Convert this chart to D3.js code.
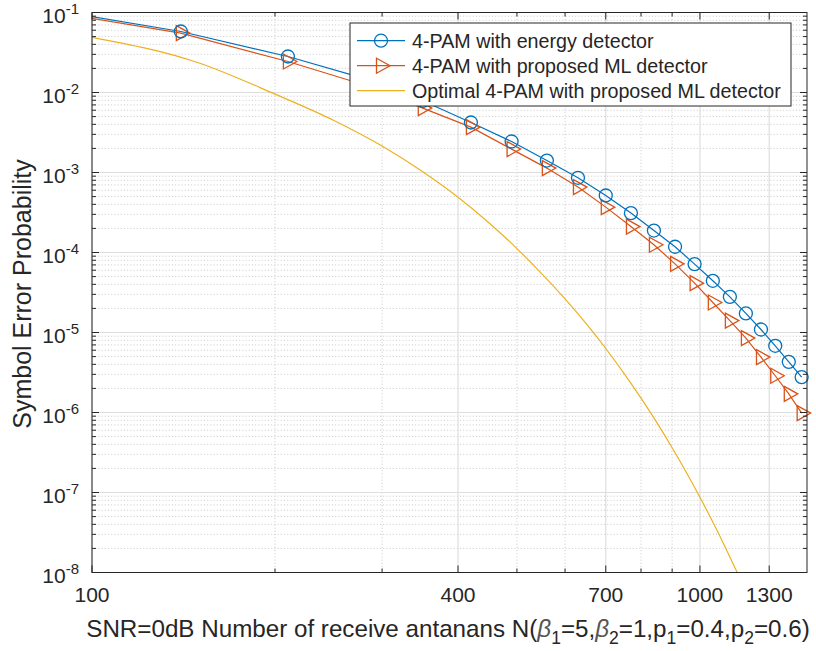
<!DOCTYPE html>
<html><head><meta charset="utf-8">
<script src="https://cdn.jsdelivr.net/npm/d3@7"></script>
<style>
html,body{margin:0;padding:0;background:#fff;}
text{font-family:"Liberation Sans",Arial,Helvetica,sans-serif;fill:#262626;}
</style></head>
<body><svg id="c" width="816" height="651"></svg>
<script>
// ---- data ----
const antennas = [70,140,210,280,350,420,490,560,630,700,770,840,910,980,1050,1120,1190,1260,1330,1400,1470];
const energySEP = [0.139,5.79e-2,2.82e-2,1.50e-2,7.87e-3,4.22e-3,2.44e-3,1.41e-3,8.59e-4,5.16e-4,3.11e-4,1.88e-4,1.18e-4,7.16e-5,4.43e-5,2.79e-5,1.73e-5,1.09e-5,6.82e-6,4.30e-6,2.77e-6];
const mlSEP = [0.1326,5.53e-2,2.44e-2,1.25e-2,6.38e-3,3.69e-3,1.96e-3,1.135e-3,6.57e-4,3.69e-4,2.11e-4,1.25e-4,7.22e-5,4.14e-5,2.37e-5,1.41e-5,8.51e-6,4.93e-6,2.88e-6,1.71e-6,9.83e-7];
const optAntennas = [100,150,200,250,300,350,400,450,500,550,600,650,700,750,800,850,900,950,1000,1050,1100,1150,1200];
const optSEP = [4.90e-2,2.34e-2,9.55e-3,4.47e-3,2.14e-3,1.02e-3,4.90e-4,2.34e-4,1.12e-4,5.37e-5,2.63e-5,1.29e-5,6.31e-6,3.09e-6,1.51e-6,7.41e-7,3.63e-7,1.78e-7,8.71e-8,4.27e-8,2.09e-8,1.02e-8,5.01e-9];
const xTicks = [100,400,700,1000,1300];
const xMinor = [200,300,500,600,800,900];
const yExponents = [-1,-2,-3,-4,-5,-6,-7,-8];
const seriesNames = ["4-PAM with energy detector","4-PAM with proposed ML detector","Optimal 4-PAM with proposed ML detector"];
const seriesColors = ["#0072BD","#D95319","#EDB120"];
const xLabelParts = [
  {t:"SNR=0dB Number of receive antanans N("},
  {t:"\u03B2", g:1},{t:"1", s:1},{t:"=5,"},
  {t:"\u03B2", g:1},{t:"2", s:1},{t:"=1,p"},
  {t:"1", s:1},{t:"=0.4,p"},{t:"2", s:1},{t:"=0.6)"}
];
const yLabel = "Symbol Error Probability";

// ---- layout ----
const L=92, R=807, T=12.5, B=572.5;
const svg = d3.select("#c");
const x = d3.scaleLog().domain([100,1500]).range([L,R]);
const y = d3.scaleLog().domain([1e-8,1e-1]).range([B,T]);

// grid
const yMinor = [];
yExponents.forEach(e=>{ if(e>-8) for(let k=2;k<=9;k++) yMinor.push(k*Math.pow(10,e-1)); });
const g = svg.append("g");
g.selectAll(".xmg").data(xMinor).join("line")
  .attr("x1",d=>x(d)).attr("x2",d=>x(d)).attr("y1",T).attr("y2",B)
  .attr("stroke","#c8c8c8").attr("stroke-width",1).attr("stroke-dasharray","1,2.2");
g.selectAll(".ymg").data(yMinor).join("line")
  .attr("y1",d=>y(d)).attr("y2",d=>y(d)).attr("x1",L).attr("x2",R)
  .attr("stroke","#c8c8c8").attr("stroke-width",1).attr("stroke-dasharray","1,2.2");
g.selectAll(".xg").data(xTicks).join("line")
  .attr("x1",d=>x(d)).attr("x2",d=>x(d)).attr("y1",T).attr("y2",B)
  .attr("stroke","#dedede").attr("stroke-width",1.2);
g.selectAll(".yg").data(yExponents.map(e=>Math.pow(10,e))).join("line")
  .attr("y1",d=>y(d)).attr("y2",d=>y(d)).attr("x1",L).attr("x2",R)
  .attr("stroke","#dedede").attr("stroke-width",1.2);

// clip
svg.append("clipPath").attr("id","clip").append("rect")
  .attr("x",L).attr("y",T).attr("width",R-L).attr("height",B-T);

const line = d3.line().x(d=>x(d[0])).y(d=>y(d[1]));
const lineSmooth = d3.line().x(d=>x(d[0])).y(d=>y(d[1])).curve(d3.curveMonotoneX);
const plot = svg.append("g").attr("clip-path","url(#clip)");
plot.append("path").datum(optAntennas.map((n,i)=>[n,optSEP[i]])).attr("d",lineSmooth)
  .attr("fill","none").attr("stroke",seriesColors[2]).attr("stroke-width",1.2);
plot.append("path").datum(antennas.map((n,i)=>[n,mlSEP[i]])).attr("d",line)
  .attr("fill","none").attr("stroke",seriesColors[1]).attr("stroke-width",1.2);
plot.append("path").datum(antennas.map((n,i)=>[n,energySEP[i]])).attr("d",line)
  .attr("fill","none").attr("stroke",seriesColors[0]).attr("stroke-width",1.2);

function tri(cx,cy){ const w=13.5,h=7.5; return `M${cx-w/3},${cy-h}L${cx+2*w/3},${cy}L${cx-w/3},${cy+h}Z`; }
const inDom = n=>n>=100 && n<=1500;
svg.append("g").selectAll("path").data(antennas.map((n,i)=>[n,mlSEP[i]]).filter(d=>inDom(d[0]))).join("path")
  .attr("d",d=>tri(x(d[0]),y(d[1]))).attr("fill","none").attr("stroke",seriesColors[1]).attr("stroke-width",1.3);
svg.append("g").selectAll("circle").data(antennas.map((n,i)=>[n,energySEP[i]]).filter(d=>inDom(d[0]))).join("circle")
  .attr("cx",d=>x(d[0])).attr("cy",d=>y(d[1])).attr("r",6.5)
  .attr("fill","none").attr("stroke",seriesColors[0]).attr("stroke-width",1.3);

// axes box and ticks
const ax = svg.append("g").attr("stroke","#262626").attr("stroke-width",1);
ax.append("rect").attr("x",L).attr("y",T).attr("width",R-L).attr("height",B-T).attr("fill","none");
xTicks.forEach(v=>{
  ax.append("line").attr("x1",x(v)).attr("x2",x(v)).attr("y1",B).attr("y2",B-7);
  ax.append("line").attr("x1",x(v)).attr("x2",x(v)).attr("y1",T).attr("y2",T+7);
});
xMinor.forEach(v=>{
  ax.append("line").attr("x1",x(v)).attr("x2",x(v)).attr("y1",B).attr("y2",B-4);
  ax.append("line").attr("x1",x(v)).attr("x2",x(v)).attr("y1",T).attr("y2",T+4);
});
yExponents.forEach(e=>{
  const v=Math.pow(10,e);
  ax.append("line").attr("y1",y(v)).attr("y2",y(v)).attr("x1",L).attr("x2",L+7);
  ax.append("line").attr("y1",y(v)).attr("y2",y(v)).attr("x1",R).attr("x2",R-7);
});
yMinor.forEach(v=>{
  ax.append("line").attr("y1",y(v)).attr("y2",y(v)).attr("x1",L).attr("x2",L+4);
  ax.append("line").attr("y1",y(v)).attr("y2",y(v)).attr("x1",R).attr("x2",R-4);
});

// tick labels
svg.append("g").selectAll("text").data(xTicks).join("text")
  .attr("x",d=>x(d)).attr("y",602).attr("text-anchor","middle").attr("font-size",21)
  .text(d=>d);
const yl = svg.append("g").selectAll("text").data(yExponents).join("text")
  .attr("x",79).attr("y",e=>y(Math.pow(10,e))+10.5).attr("text-anchor","end").attr("font-size",21);
yl.append("tspan").text("10");
yl.append("tspan").attr("dy",-9).attr("font-size",15).text(e=>"-"+Math.abs(e));

// axis labels
const xl = svg.append("text").attr("x",448).attr("y",637).attr("text-anchor","middle").attr("font-size",24.2);
xLabelParts.forEach((p,i)=>{
  const t = xl.append("tspan").text(p.t);
  if(p.g) t.attr("font-style","italic").attr("fill","#555");
  if(p.s) t.attr("font-size",17.5).attr("dy",7);
  else if(i>0 && xLabelParts[i-1].s) t.attr("dy",-7);
});
svg.append("text").attr("transform","translate(31,294) rotate(-90)")
  .attr("text-anchor","middle").attr("font-size",25).text(yLabel);

// legend
const lg = svg.append("g");
lg.append("rect").attr("x",350).attr("y",23).attr("width",441).attr("height",83)
  .attr("fill","#fff").attr("stroke","#262626").attr("stroke-width",1);
const rowsY=[40.7,65.7,90.7];
seriesNames.forEach((name,i)=>{
  lg.append("line").attr("x1",357).attr("x2",405).attr("y1",rowsY[i]).attr("y2",rowsY[i])
    .attr("stroke",seriesColors[i]).attr("stroke-width",1.2);
  if(i===0) lg.append("circle").attr("cx",381).attr("cy",rowsY[i]).attr("r",6.5)
    .attr("fill","none").attr("stroke",seriesColors[i]).attr("stroke-width",1.3);
  if(i===1) lg.append("path").attr("d",tri(381,rowsY[i]))
    .attr("fill","none").attr("stroke",seriesColors[i]).attr("stroke-width",1.3);
  lg.append("text").attr("x",412).attr("y",rowsY[i]+7).attr("font-size",19.7).attr("fill","#000").text(name);
});
</script></body></html>
